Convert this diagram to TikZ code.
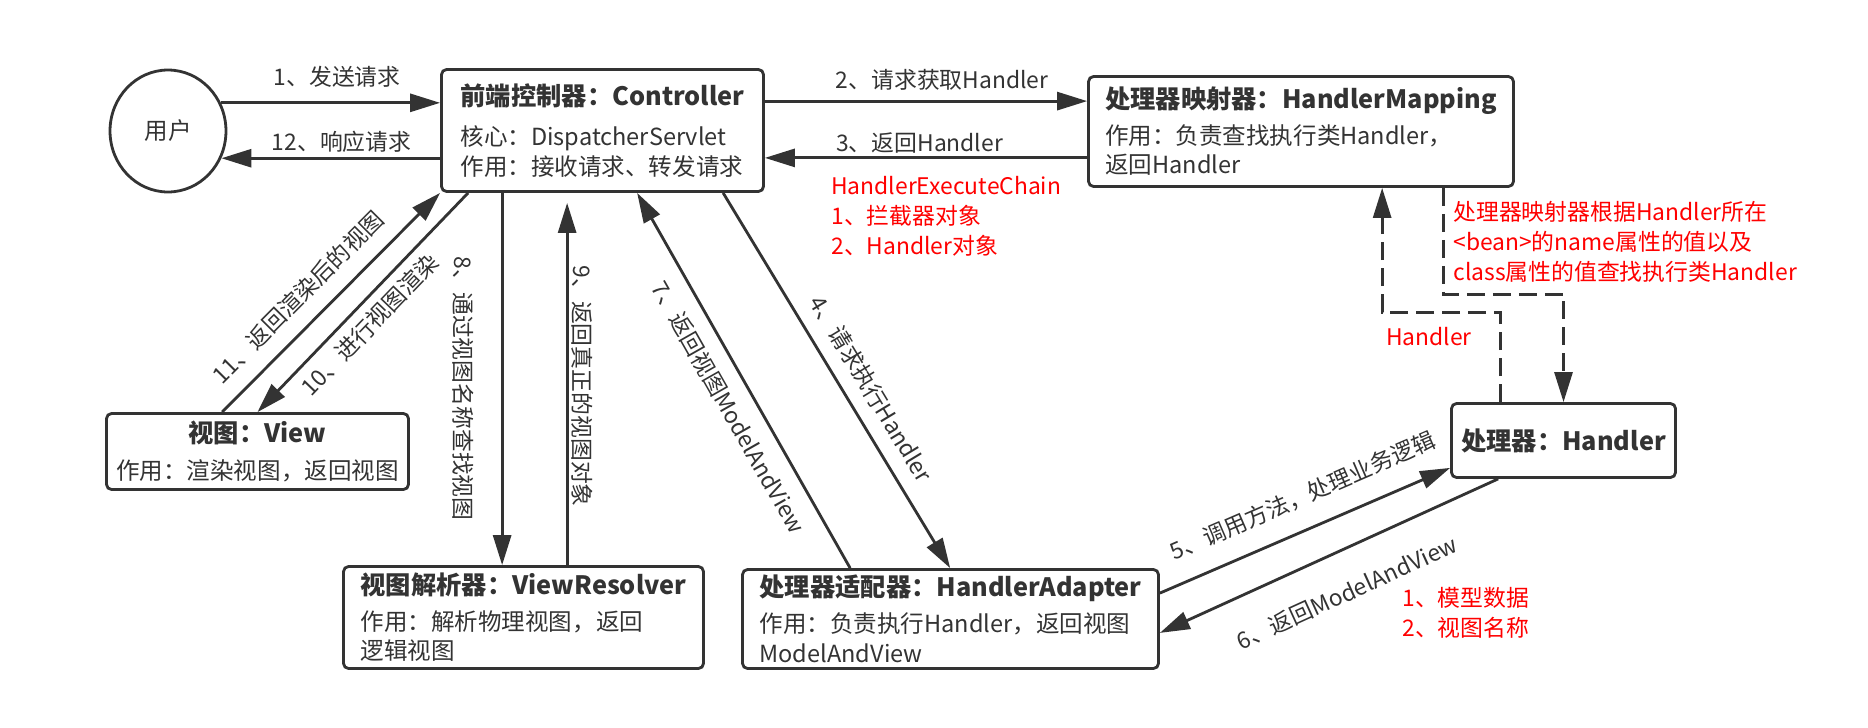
\documentclass[tikz,border=0pt]{standalone}
\usepackage{fontspec}
\setmainfont{Noto Sans CJK SC}
\usetikzlibrary{arrows.meta,calc,shapes.geometric}

\definecolor{lineclr}{HTML}{333333}
\definecolor{noteclr}{HTML}{FF0000}
\newcommand{\bodyfont}{\fontsize{13.4}{17}\selectfont}
\newcommand{\titlefont}{\fontsize{14.4}{17}\selectfont\bfseries}
\newcommand{\lblfont}{\fontsize{13}{15}\selectfont}
\newcommand{\notefont}{\fontsize{13}{17}\selectfont}

\begin{document}
\begin{tikzpicture}[x=0.02cm, y=-0.02cm, >={Triangle[length=0.6cm,width=0.36cm]},
  box/.style={draw=lineclr, line width=1.6pt, rounded corners=0.1cm, text=lineclr, font=\bodyfont, align=left, inner sep=0pt},
  arr/.style={draw=lineclr, line width=1.6pt, ->},
  dsh/.style={arr, dash pattern=on 0.36cm off 0.16cm},
  lbl/.style={font=\lblfont, text=lineclr, inner sep=2pt},
  note/.style={font=\notefont, text=noteclr, align=left, inner sep=0pt}]
  \useasboundingbox (0,0) rectangle (1868,727);

  % user and the boxes
  \node[box, ellipse, align=center, minimum width=2.32cm, minimum height=2.44cm] (user) at (168,131) {用户};
  \node[box, minimum width=6.44cm, minimum height=2.44cm] (ctrl) at (602.5,130.5)
    {{\titlefont 前端控制器：Controller}\\[5.5pt]核心：DispatcherServlet\\作用：接收请求、转发请求};
  \node[box, minimum width=8.5cm, minimum height=2.2cm] (map) at (1301,131.5)
    {{\titlefont 处理器映射器：HandlerMapping}\\[3pt]作用：负责查找执行类Handler，\\返回Handler};
  \node[box, minimum width=4.48cm, minimum height=1.48cm] (hdl) at (1563.5,440.5)
    {{\titlefont 处理器：Handler}};
  \node[box, minimum width=8.32cm, minimum height=1.98cm] (adp) at (950.5,619)
    {{\titlefont 处理器适配器：HandlerAdapter}\\[3.5pt]作用：负责执行Handler，返回视图\\ModelAndView};
  \node[box, minimum width=7.2cm, minimum height=2.04cm] (vr) at (523.5,617.5)
    {{\titlefont 视图解析器：ViewResolver}\\[3pt]作用：解析物理视图，返回\\逻辑视图};
  \node[box, align=center, minimum width=6.04cm, minimum height=1.52cm] (view) at (257.5,451.5)
    {{\titlefont 视图：View}\\[4pt]作用：渲染视图，返回视图};

  % user <-> controller
  \draw[arr] (user.28) -- node[lbl, pos=.53, above=5.7pt] (l1) {1、发送请求} (user.28 -| ctrl.west);
  \draw[arr] (user.-27 -| ctrl.west) -- node[lbl, pos=.45, above=0.6pt] (l12) {12、响应请求} (user.-27);

  % controller <-> mapping
  \coordinate (m2) at ($(map.north west)+(0,26)$);
  \coordinate (m3) at ($(map.south west)+(0,-30)$);
  \draw[arr] (m2 -| ctrl.east) -- node[lbl, pos=.55, above=3.4pt] (l2) {2、请求获取Handler} (m2);
  \draw[arr] (m3) -- node[lbl, pos=.52, above=0pt] (l3) {3、返回Handler} (m3 -| ctrl.east);

  % controller <-> adapter <-> handler
  \draw[arr] ($(ctrl.south west)+(283,0)$) -- node[lbl, pos=.557, sloped, above=5.7pt] (l4) {4、请求执行Handler} ($(adp.north west)+(209,0)$);
  \draw[arr] ($(adp.north east)+(0,25)$) -- node[lbl, pos=.537, sloped, above=9.6pt] (l5) {5、调用方法，处理业务逻辑} ($(hdl.south west)+(0,-11)$);
  \draw[arr] ($(hdl.south west)+(48,0)$) -- node[lbl, pos=.497, sloped, below=14.7pt] (l6) {6、返回ModelAndView} ($(adp.south east)+(0,-37)$);
  \draw[arr] ($(adp.north west)+(109,0)$) -- node[lbl, pos=.463, sloped, below=6.2pt] (l7) {7、返回视图ModelAndView} ($(ctrl.south west)+(197,0)$);

  % controller <-> view resolver
  \draw[arr] ($(ctrl.south west)+(62,0)$) coordinate (c8) -- node[lbl, pos=.526, sloped, below=13.6pt] (l8) {8、通过视图名称查找视图} (c8 |- vr.north);
  \coordinate (c9) at ($(ctrl.south west)+(127,10)$);
  \draw[arr, <-] (c9) -- node[lbl, pos=.506, sloped, above=0pt] (l9) {9、返回真正的视图对象} (c9 |- vr.north);

  % controller <-> view
  \draw[arr] ($(ctrl.south west)+(28,0)$) -- node[lbl, pos=.537, sloped, below=2.8pt] (l10) {10、进行视图渲染} (view.north);
  \draw[arr] ($(view.north west)+(117,0)$) -- node[lbl, pos=.436, sloped, above=6.8pt] (l11) {11、返回渲染后的视图} (ctrl.south west);

  % mapping <-> handler (dashed)
  \draw[dsh] ($(map.south west)+(356,0)$) |- ($(hdl.north)+(0,-108)$) -- (hdl.north);
  \draw[dsh] ($(hdl.north west)+(50,0)$) -- ++(0,-90) -| ($(map.south west)+(295,0)$);

  % red notes
  \node[note, anchor=north west] (chain) at (831,176) {HandlerExecuteChain\\1、拦截器对象\\2、Handler对象};
  \node[note, anchor=north west] (rule) at (1453,201) {处理器映射器根据Handler所在\\<bean>的name属性的值以及\\class属性的值查找执行类Handler};
  \node[note] (hret) at (1429,337) {Handler};
  \node[note, anchor=north west] (mav) at (1402,587) {1、模型数据\\2、视图名称};
\end{tikzpicture}
\end{document}
